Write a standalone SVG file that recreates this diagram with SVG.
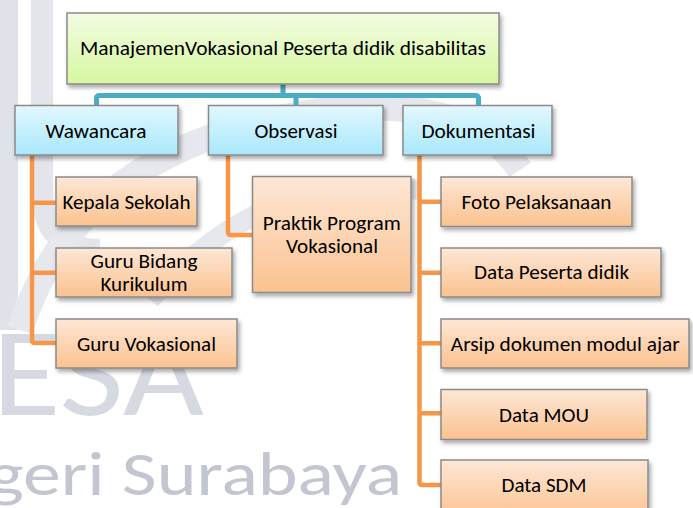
<svg xmlns="http://www.w3.org/2000/svg" width="693" height="508" viewBox="0 0 693 508">
<defs>
<linearGradient id="gGreen" x1="0" y1="0" x2="0" y2="1"><stop offset="0" stop-color="#f2fce2"/><stop offset="1" stop-color="#d6f7a0"/></linearGradient>
<linearGradient id="gBlue" x1="0" y1="0" x2="0" y2="1"><stop offset="0" stop-color="#e3f7fd"/><stop offset="1" stop-color="#a8e8fb"/></linearGradient>
<linearGradient id="gOrange" x1="0" y1="0" x2="0" y2="1"><stop offset="0" stop-color="#fde7d6"/><stop offset="1" stop-color="#fbc28f"/></linearGradient>
<filter id="shadow" x="-10%" y="-10%" width="130%" height="140%"><feDropShadow dx="2" dy="3" stdDeviation="2" flood-color="#000" flood-opacity="0.35"/></filter>
</defs>
<style>
.box{stroke:#8a8a8a;stroke-width:1.5;filter:url(#shadow)}
.green{fill:url(#gGreen)}
.blue{fill:url(#gBlue)}
.orange{fill:url(#gOrange)}
.t{font-family:Carlito,Lato,"Liberation Sans",sans-serif;font-size:19.5px;fill:#000;text-anchor:middle}
.wm{font-family:Carlito,Lato,"Liberation Sans",sans-serif}
.c1{fill:none;stroke:#4bacc6;stroke-width:5}
.c2{fill:none;stroke:#f79646;stroke-width:4.5}
</style>
<rect width="693" height="508" fill="#fff"/>
<g id="watermark">
<rect x="0" y="0" width="18" height="330" fill="#e0e2e9"/>
<path d="M42,0 V190 Q42,250 100,250" fill="none" stroke="#e3e5eb" stroke-width="22"/>
<path d="M20,330 Q80,140 330,110 Q470,95 520,170" fill="none" stroke="#e7e8ee" stroke-width="26"/>
<path d="M150,300 Q260,170 420,190" fill="none" stroke="#e7e8ee" stroke-width="20"/>
<text class="wm" x="-8" y="415" font-size="125" fill="#d6d9e2" textLength="212" lengthAdjust="spacingAndGlyphs">ESA</text>
<text class="wm" x="-12" y="495" font-size="62" fill="#c3c6d0" textLength="414" lengthAdjust="spacingAndGlyphs">geri Surabaya</text>
</g>
<g id="connectors">
<path class="c1" d="M283,84 V95.5 M96.5,106 V98.5 Q96.5,95.5 99.5,95.5 H475.5 Q478.5,95.5 478.5,98.5 V106 M296,95.5 V106"/>
<path class="c2" d="M32,155 V340 Q32,343 35,343 H57 M32,202.7 H57 M32,272.7 H57"/>
<path class="c2" d="M228,155 V232 Q228,235 231,235 H253"/>
<path class="c2" d="M419.5,155 V482 Q419.5,485 422.5,485 H442 M419.5,201.7 H442 M419.5,272.7 H442 M419.5,343.3 H442 M419.5,413.3 H442"/>
</g>
<g id="root"><rect class="box green" x="67" y="13" width="432" height="71"/><text class="t" x="283" y="55" textLength="406" lengthAdjust="spacingAndGlyphs">ManajemenVokasional Peserta didik disabilitas</text></g>
<g id="wawancara"><rect class="box blue" x="15" y="105.5" width="163" height="49.5"/><text class="t" x="96" y="137.7" textLength="101" lengthAdjust="spacingAndGlyphs">Wawancara</text></g>
<g id="observasi"><rect class="box blue" x="208.5" y="105.5" width="174.5" height="49.5"/><text class="t" x="296" y="137.7" textLength="83" lengthAdjust="spacingAndGlyphs">Observasi</text></g>
<g id="dokumentasi"><rect class="box blue" x="403" y="105.5" width="149" height="49.5"/><text class="t" x="478.5" y="137.7" textLength="114" lengthAdjust="spacingAndGlyphs">Dokumentasi</text></g>
<g id="kepala-sekolah"><rect class="box orange" x="56" y="177" width="141" height="49"/><text class="t" x="126.5" y="209.3" textLength="128" lengthAdjust="spacingAndGlyphs">Kepala Sekolah</text></g>
<g id="guru-bidang-kurikulum"><rect class="box orange" x="56" y="248" width="176" height="49"/><text class="t" x="144" y="268.3" textLength="107" lengthAdjust="spacingAndGlyphs">Guru Bidang</text><text class="t" x="144" y="291" textLength="87" lengthAdjust="spacingAndGlyphs">Kurikulum</text></g>
<g id="guru-vokasional"><rect class="box orange" x="56" y="319" width="181" height="49"/><text class="t" x="146.5" y="350.5" textLength="139" lengthAdjust="spacingAndGlyphs">Guru Vokasional</text></g>
<g id="praktik-program"><rect class="box orange" x="252.5" y="176.5" width="158.5" height="116"/><text class="t" x="331.7" y="230" textLength="138" lengthAdjust="spacingAndGlyphs">Praktik Program</text><text class="t" x="332" y="252.7" textLength="92" lengthAdjust="spacingAndGlyphs">Vokasional</text></g>
<g id="foto-pelaksanaan"><rect class="box orange" x="441" y="177" width="191" height="49.5"/><text class="t" x="536.5" y="209.3" textLength="150" lengthAdjust="spacingAndGlyphs">Foto Pelaksanaan</text></g>
<g id="data-peserta-didik"><rect class="box orange" x="441" y="248" width="220" height="49"/><text class="t" x="551.5" y="279" textLength="155" lengthAdjust="spacingAndGlyphs">Data Peserta didik</text></g>
<g id="arsip-dokumen"><rect class="box orange" x="441" y="319" width="248" height="49"/><text class="t" x="565.3" y="350.5" textLength="229" lengthAdjust="spacingAndGlyphs">Arsip dokumen modul ajar</text></g>
<g id="data-mou"><rect class="box orange" x="441" y="389.5" width="206" height="50"/><text class="t" x="544" y="421.5" textLength="90" lengthAdjust="spacingAndGlyphs">Data MOU</text></g>
<g id="data-sdm"><rect class="box orange" x="441" y="460" width="207" height="60"/><text class="t" x="544" y="492" textLength="85" lengthAdjust="spacingAndGlyphs">Data SDM</text></g>
</svg>
